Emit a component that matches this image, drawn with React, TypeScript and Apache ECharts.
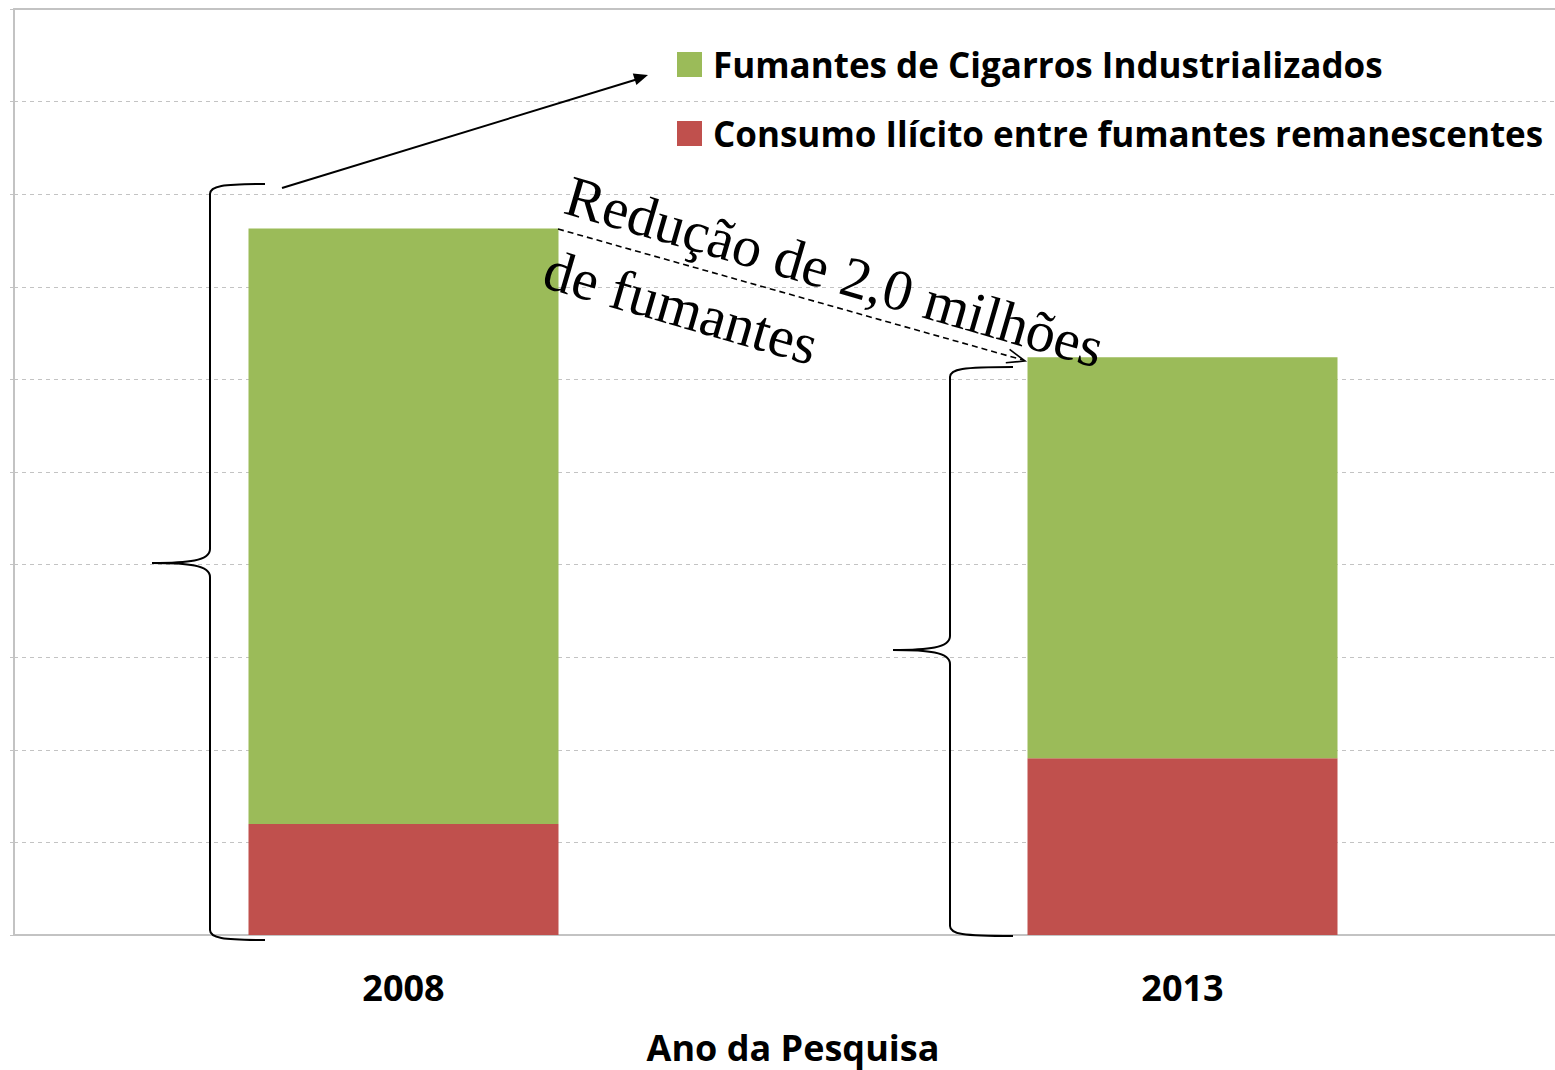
import React, { useEffect, useRef } from "react";
import * as echarts from "echarts";

const categories = ["2008", "2013"];
const seriesNames = [
  "Fumantes de Cigarros Industrializados",
  "Consumo Ilícito entre fumantes remanescentes",
];
const greenValues = [6.43, 4.33];
const redValues = [1.2, 1.91];

const GREEN = "#9BBB59";
const RED = "#C0504D";
const GRID_COLOR = "#c3c3c3";
const SANS = "Open Sans";

function brace(xTip: number, tipY: number, xV: number, xEnd: number, yTop: number, yBot: number) {
  const st = { stroke: "#000", lineWidth: 2, fill: null as any };
  return [
    { type: "bezierCurve", shape: { x1: xEnd, y1: yTop, cpx1: xV + 12, cpy1: yTop, cpx2: xV, cpy2: yTop + 2, x2: xV, y2: yTop + 10 }, style: st },
    { type: "line", shape: { x1: xV, y1: yTop + 10, x2: xV, y2: tipY - 14 }, style: st },
    { type: "bezierCurve", shape: { x1: xV, y1: tipY - 14, cpx1: xV, cpy1: tipY - 2, cpx2: xV - 22, cpy2: tipY, x2: xTip, y2: tipY }, style: st },
    { type: "bezierCurve", shape: { x1: xTip, y1: tipY, cpx1: xV - 22, cpy1: tipY, cpx2: xV, cpy2: tipY + 2, x2: xV, y2: tipY + 14 }, style: st },
    { type: "line", shape: { x1: xV, y1: tipY + 14, x2: xV, y2: yBot - 10 }, style: st },
    { type: "bezierCurve", shape: { x1: xV, y1: yBot - 10, cpx1: xV, cpy1: yBot - 2, cpx2: xV + 12, cpy2: yBot, x2: xEnd, y2: yBot }, style: st },
  ].map((e) => ({ ...e, z: 100 }));
}

export default function App() {
  const ref = useRef<HTMLDivElement>(null);
  useEffect(() => {
    if (!ref.current) return;
    const chart = echarts.init(ref.current, undefined, { renderer: "svg" });
    const option: any = {
      animation: false,
      backgroundColor: "#fff",
      grid: { left: 14, width: 1558, top: 9, height: 926, containLabel: false, outerBoundsMode: "none" },
      legend: {
        orient: "vertical",
        left: 677,
        top: 47,
        padding: 0,
        itemGap: 34,
        itemWidth: 25,
        itemHeight: 25,
        icon: "rect",
        data: [seriesNames[0], seriesNames[1]],
        textStyle: { fontFamily: SANS, fontWeight: "bold", fontSize: 35, color: "#000", padding: [0, 0, 0, 6] },
      },
      xAxis: [
        {
          type: "category",
          data: categories,
          axisTick: { show: false },
          axisLine: { show: true, lineStyle: { color: GRID_COLOR, width: 2 } },
          axisLabel: { fontFamily: SANS, fontWeight: "bold", fontSize: 36, color: "#000", margin: 34 },
          name: "Ano da Pesquisa",
          nameLocation: "middle",
          nameGap: 94,
          nameTextStyle: { fontFamily: SANS, fontWeight: "bold", fontSize: 36, color: "#000" },
        },
        {
          type: "category",
          position: "top",
          data: categories,
          axisTick: { show: false },
          axisLabel: { show: false },
          axisLine: { show: true, lineStyle: { color: GRID_COLOR, width: 2 } },
        },
      ],
      yAxis: {
        type: "value",
        min: 0,
        max: 10,
        interval: 1,
        axisLabel: { show: false },
        axisLine: { show: true, lineStyle: { color: GRID_COLOR, width: 2 } },
        axisTick: { show: true, length: 4, lineStyle: { color: GRID_COLOR } },
        splitLine: { show: true, lineStyle: { color: GRID_COLOR, type: [4, 4], width: 1.2 } },
      },
      series: [
        {
          name: seriesNames[1],
          type: "bar",
          stack: "total",
          data: redValues,
          barWidth: 310,
          itemStyle: { color: RED },
        },
        {
          name: seriesNames[0],
          type: "bar",
          stack: "total",
          data: greenValues,
          barWidth: 310,
          itemStyle: { color: GREEN },
        },
      ],
      graphic: [
        ...brace(152, 563, 210, 265, 184, 940),
        ...brace(893, 650, 950, 1013, 367, 936),
        { type: "line", z: 100, shape: { x1: 282, y1: 188, x2: 638, y2: 79 }, style: { stroke: "#000", lineWidth: 2 } },
        { type: "polygon", z: 100, shape: { points: [[648, 75], [636.4, 84.9], [632.8, 73.4]] }, style: { fill: "#000" } },
        { type: "line", z: 100, shape: { x1: 558, y1: 229, x2: 1023, y2: 360 }, style: { stroke: "#000", lineWidth: 1.6, lineDash: [6, 4] } },
        { type: "polyline", z: 100, shape: { points: [[1005.8, 362.8], [1025, 361], [1009.6, 349.4]] }, style: { stroke: "#000", lineWidth: 1.6, fill: null } },
        {
          type: "text",
          z: 100,
          x: 578,
          y: 157,
          rotation: -0.283,
          style: {
            text: "Redução de 2,0 milhões\nde fumantes",
            fontFamily: "Liberation Serif",
            fontSize: 58,
            lineHeight: 77,
            fill: "#000",
            textAlign: "left",
            textVerticalAlign: "top",
          },
        },
      ],
    };
    chart.setOption(option);
    return () => chart.dispose();
  }, []);
  return <div ref={ref} style={{ position: "fixed", left: 0, top: 0, width: 1555, height: 1070 }} />;
}
